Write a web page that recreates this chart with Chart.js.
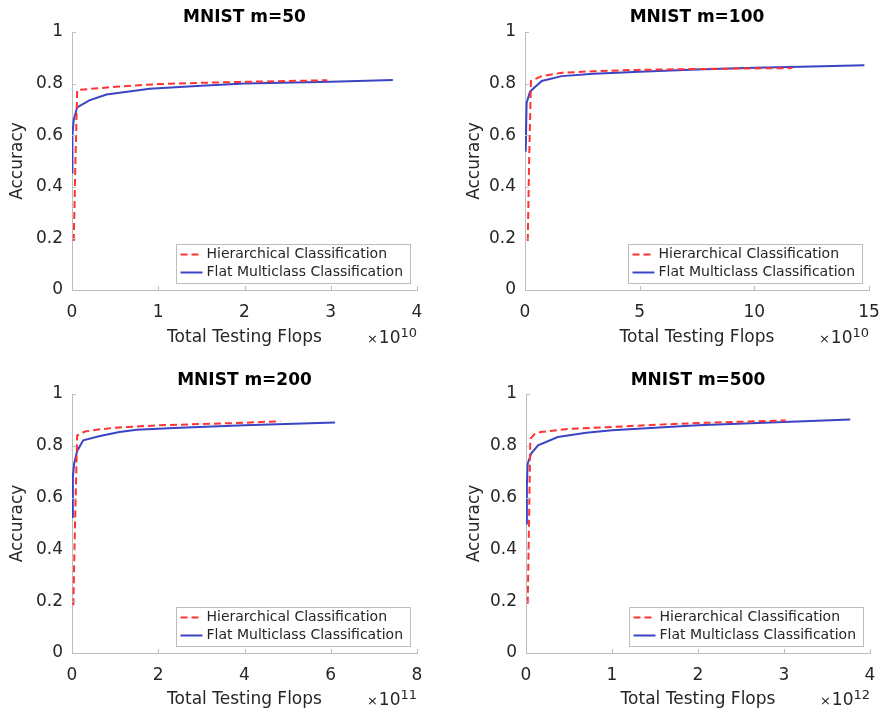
<!DOCTYPE html>
<html>
<head>
<meta charset="utf-8">
<script src="https://cdn.jsdelivr.net/npm/chart.js@4"></script>
<style>
  body { margin: 0; background: #fff; }
  #wrap { position: relative; width: 882px; height: 714px; }
  .panel { position: absolute; width: 441px; height: 357px; }
</style>
</head>
<body>
<div id="wrap">
  <div class="panel" style="left:0;top:0"><canvas id="c0" width="441" height="357"></canvas></div>
  <div class="panel" style="left:441px;top:0"><canvas id="c1" width="441" height="357"></canvas></div>
  <div class="panel" style="left:0;top:357px"><canvas id="c2" width="441" height="357"></canvas></div>
  <div class="panel" style="left:441px;top:357px"><canvas id="c3" width="441" height="357"></canvas></div>
</div>
<script>
// ---- data (x values in units of the axis multiplier) ----
const titles = ["MNIST m=50", "MNIST m=100", "MNIST m=200", "MNIST m=500"];
const seriesNames = ["Hierarchical Classification", "Flat Multiclass Classification"];
const xExponents = ["10", "10", "11", "12"];
const xMax = [4, 15, 8, 4];
const xStep = [1, 5, 2, 1];
const yTicks = [0, 0.2, 0.4, 0.6, 0.8, 1];

const hierX50 = [0.02, 0.04, 0.06, 0.3, 0.6, 1.0, 1.5, 2.0, 2.5, 2.96];
const hierY50 = [0.19, 0.5, 0.775, 0.782, 0.79, 0.798, 0.803, 0.807, 0.81, 0.813];
const flatX50 = [0, 0.005, 0.02, 0.06, 0.2, 0.4, 0.9, 1.5, 2.0, 3.0, 3.72];
const flatY50 = [0.455, 0.6, 0.66, 0.708, 0.735, 0.758, 0.78, 0.792, 0.8, 0.807, 0.814];

const hierX100 = [0.12, 0.18, 0.26, 0.7, 1.6, 3, 4.8, 7, 10, 11.66];
const hierY100 = [0.19, 0.5, 0.81, 0.828, 0.842, 0.848, 0.853, 0.856, 0.859, 0.86];
const flatX100 = [0.03, 0.07, 0.22, 0.73, 1.6, 3, 5, 7.5, 10, 12.5, 14.8];
const flatY100 = [0.536, 0.725, 0.769, 0.81, 0.829, 0.838, 0.846, 0.855, 0.861, 0.866, 0.871];

const hierX200 = [0.03, 0.07, 0.12, 0.3, 0.57, 1, 2, 3, 4, 4.83];
const hierY200 = [0.184, 0.5, 0.84, 0.855, 0.862, 0.87, 0.879, 0.884, 0.889, 0.895];
const flatX200 = [0, 0.02, 0.05, 0.12, 0.26, 0.65, 1.1, 1.5, 2.5, 4, 6.1];
const flatY200 = [0.525, 0.68, 0.731, 0.78, 0.821, 0.838, 0.853, 0.862, 0.87, 0.879, 0.89];

const hierX500 = [0.02, 0.035, 0.05, 0.1, 0.17, 0.5, 1, 1.5, 2, 2.5, 3.02];
const hierY500 = [0.19, 0.5, 0.827, 0.845, 0.853, 0.865, 0.873, 0.881, 0.888, 0.893, 0.898];
const flatX500 = [0, 0.01, 0.02, 0.06, 0.14, 0.37, 0.7, 1, 1.5, 2, 3, 3.77];
const flatY500 = [0.5, 0.65, 0.731, 0.77, 0.802, 0.834, 0.85, 0.86, 0.87, 0.879, 0.892, 0.902];

const hierXs = [hierX50, hierX100, hierX200, hierX500];
const hierYs = [hierY50, hierY100, hierY200, hierY500];
const flatXs = [flatX50, flatX100, flatX200, flatX500];
const flatYs = [flatY50, flatY100, flatY200, flatY500];

// ---- layout of each panel inside its 441x357 canvas ----
const boxes = [
  { l: 72, r: 417, t: 32, b: 290, titleTop: 6, xTitlePad: 9, yTitlePad: 7 },
  { l: 84, r: 428, t: 32, b: 290, titleTop: 6, xTitlePad: 9, yTitlePad: 23 },
  { l: 72, r: 417, t: 37, b: 296, titleTop: 12, xTitlePad: 4, yTitlePad: 7 },
  { l: 85, r: 429, t: 37, b: 296, titleTop: 12, xTitlePad: 4, yTitlePad: 23 }
];

const FONT = "'DejaVu Sans', sans-serif";
const TEXT = "#262626";
const AXIS = "#bdbdbd";
const RED = "#ff3333";
const BLUE = "#3b44c4";

function toPoints(xs, ys) {
  return xs.map((x, i) => ({ x: x, y: ys[i] }));
}

// inward ticks, legend box and the x10^n multiplier
const matlabBits = {
  id: "matlabBits",
  afterDraw(chart, args, opts) {
    const ctx = chart.ctx;
    const area = chart.chartArea;
    const xs = chart.scales.x, ys = chart.scales.y;
    ctx.save();
    ctx.strokeStyle = AXIS;
    ctx.lineWidth = 1;
    ctx.beginPath();
    xs.ticks.forEach(t => {
      const px = Math.round(xs.getPixelForValue(t.value)) + 0.5;
      ctx.moveTo(px, area.bottom);
      ctx.lineTo(px, area.bottom - 4);
    });
    ys.ticks.forEach(t => {
      const py = Math.round(ys.getPixelForValue(t.value)) + 0.5;
      ctx.moveTo(area.left, py);
      ctx.lineTo(area.left + 4, py);
    });
    ctx.stroke();

    // legend
    const w = 234, h = 39;
    const lx = Math.round(area.right - 7 - w) + 0.5;
    const ly = Math.round(area.bottom - 7 - h) + 0.5;
    ctx.fillStyle = "#fff";
    ctx.fillRect(lx, ly, w, h);
    ctx.strokeStyle = AXIS;
    ctx.strokeRect(lx, ly, w, h);
    ctx.font = "14px " + FONT;
    ctx.textBaseline = "middle";
    chart.data.datasets.forEach((ds, i) => {
      const yy = ly + 10 + i * 18;
      ctx.strokeStyle = ds.borderColor;
      ctx.lineWidth = 2;
      ctx.setLineDash(ds.borderDash || []);
      ctx.beginPath();
      ctx.moveTo(lx + 4, yy);
      ctx.lineTo(lx + 26, yy);
      ctx.stroke();
      ctx.setLineDash([]);
      ctx.fillStyle = TEXT;
      ctx.fillText(ds.label, lx + 30, yy);
    });

    // multiplier
    const ey = chart.height - opts.xTitlePad - 6;
    ctx.textBaseline = "alphabetic";
    ctx.font = "13px " + FONT;
    const supW = ctx.measureText(opts.exp).width;
    ctx.fillStyle = TEXT;
    ctx.textAlign = "right";
    ctx.fillText(opts.exp, area.right, ey - 5);
    ctx.font = "17px " + FONT;
    ctx.fillText("10", area.right - supW, ey + 1);
    const tenW = ctx.measureText("10").width;
    ctx.font = "13px " + FONT;
    ctx.fillText("\u00d7", area.right - supW - tenW - 1, ey + 1);
    ctx.restore();
  }
};

titles.forEach((title, i) => {
  const box = boxes[i];
  new Chart(document.getElementById("c" + i), {
    type: "line",
    data: {
      datasets: [
        {
          label: seriesNames[0],
          data: toPoints(hierXs[i], hierYs[i]),
          borderColor: RED,
          borderWidth: 2,
          borderDash: [7, 4],
          pointRadius: 0,
          fill: false,
          tension: 0
        },
        {
          label: seriesNames[1],
          data: toPoints(flatXs[i], flatYs[i]),
          borderColor: BLUE,
          borderWidth: 2,
          pointRadius: 0,
          fill: false,
          tension: 0
        }
      ]
    },
    options: {
      responsive: false,
      animation: false,
      devicePixelRatio: 1,
      layout: { padding: { left: 0, top: 0, right: 441 - box.r, bottom: 0 } },
      plugins: {
        legend: { display: false },
        tooltip: { enabled: false },
        title: {
          display: true,
          text: title,
          fullSize: false,
          color: "#000",
          font: { family: FONT, size: 17, weight: "bold", lineHeight: 1.2 },
          padding: { top: box.titleTop + 1, bottom: box.t - box.titleTop - 21.4 }
        },
        matlabBits: { exp: xExponents[i], xTitlePad: box.xTitlePad }
      },
      scales: {
        x: {
          type: "linear",
          min: 0,
          max: xMax[i],
          border: { color: AXIS, width: 1 },
          grid: { display: false, drawTicks: false },
          ticks: {
            stepSize: xStep[i],
            color: TEXT,
            padding: 12,
            maxRotation: 0,
            font: { family: FONT, size: 17 }
          },
          title: {
            display: true,
            text: "Total Testing Flops",
            color: TEXT,
            font: { family: FONT, size: 17, lineHeight: 1.2 },
            padding: { top: 0, bottom: box.xTitlePad }
          },
          afterFit(scale) {
            scale.height = 357 - box.b;
            scale.paddingLeft = 0;
            scale.paddingRight = 0;
          }
        },
        y: {
          min: 0,
          max: 1,
          border: { color: AXIS, width: 1 },
          grid: { display: false, drawTicks: false },
          afterBuildTicks(scale) { scale.ticks = yTicks.map(v => ({ value: v })); },
          ticks: {
            color: TEXT,
            padding: 9,
            font: { family: FONT, size: 17 },
            callback: v => String(Math.round(v * 10) / 10)
          },
          title: {
            display: true,
            text: "Accuracy",
            color: TEXT,
            font: { family: FONT, size: 17, lineHeight: 1.2 },
            padding: { top: box.yTitlePad, bottom: 0 }
          },
          afterFit(scale) { scale.width = box.l; }
        }
      }
    },
    plugins: [matlabBits]
  });
});
</script>
</body>
</html>
